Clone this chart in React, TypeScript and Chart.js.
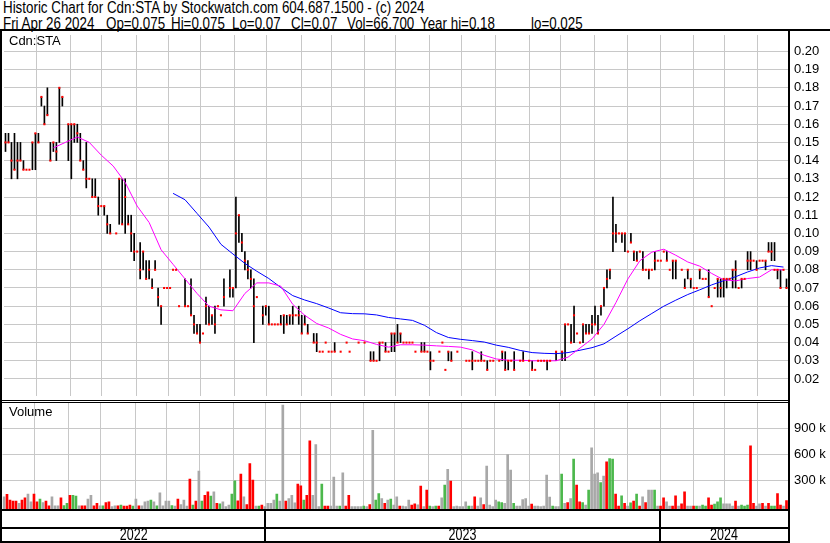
import { useEffect, useRef } from "react";
import { Chart, registerables } from "chart.js";

Chart.register(...registerables);

// ---- data (one entry per bar slot, oldest first; null = no trade) ----
const highs: (number | null)[] = [
  .155,.155,.15,.155,.15,.15,.14,.135,.135,.15,
  .155,.155,.175,.17,.18,.15,.15,.15,.18,.175,
  null,.16,.16,.16,.16,.155,.14,.15,.13,.13,
  .13,.12,.115,.115,.11,.105,null,.10,.13,.13,
  .13,.11,.11,.10,.09,.095,.09,.085,.085,.075,
  .085,.07,.06,.07,.07,.07,.08,.08,.06,null,
  .075,.06,.075,.055,.05,.05,.045,.065,.06,.055,
  .06,.06,.055,.075,null,.08,.07,.12,.11,.10,
  .09,.085,.08,.075,.065,null,.06,.06,.06,.05,
  .05,.05,.055,.055,.055,.055,.06,.055,.06,.055,
  .055,.05,null,.045,.045,.035,.035,.04,.035,.035,
  .04,null,.035,null,.04,.035,null,null,.04,null,
  .04,null,.035,.035,.03,.04,.04,.04,.035,.045,
  .045,.05,.045,.04,.04,.04,.04,.035,null,.04,
  .04,.035,.035,.03,null,.035,.04,.025,.035,.035,
  null,.035,null,null,.03,.03,.035,.03,.03,.035,
  .03,.03,.03,.03,null,.03,.035,.035,.03,.03,
  .035,null,.03,.035,null,.03,.03,.025,.03,.03,
  .03,.03,.03,null,.035,null,.035,.05,.05,.05,
  .06,.045,.04,.05,.05,.05,.055,.06,.055,.06,
  .07,.08,.08,.12,.105,.10,.10,.10,.09,.10,
  .09,.09,.09,.09,.08,.08,.08,.09,.085,.085,
  .09,.09,.08,.085,.085,null,.08,.075,.08,.075,
  .07,.07,.08,.075,.075,.08,.06,.07,.075,.075,
  .075,.075,.075,.08,.085,.07,.075,.075,.09,.09,
  .085,.085,.085,.085,.085,.095,.095,.095,.08,.08,
  .08,.075,
];
const lows: (number | null)[] = [
  .145,.15,.13,.135,.13,.14,.135,.135,.135,.135,
  .135,.15,.17,.16,.165,.14,.145,.14,.15,.17,
  null,.14,.13,.15,.15,.14,.135,.125,.13,.12,
  .12,.11,.115,.11,.10,.10,null,.10,.105,.105,
  .10,.105,.09,.085,.09,.075,.08,.075,.075,.07,
  .08,.06,.05,.07,.07,.07,.08,.08,.06,null,
  .06,.06,.055,.045,.045,.04,.045,.05,.05,.05,
  .045,.06,.055,.06,null,.065,.065,.07,.095,.09,
  .08,.075,.07,.04,.065,null,.05,.055,.05,.05,
  .05,.05,.05,.045,.05,.05,.05,.055,.05,.045,
  .05,.045,null,.04,.035,.035,.035,.04,.035,.035,
  .035,null,.035,null,.04,.035,null,null,.04,null,
  .04,null,.03,.03,.03,.03,.04,.035,.035,.035,
  .035,.04,.04,.04,.04,.04,.04,.035,null,.035,
  .035,.035,.025,.03,null,.035,.04,.025,.03,.03,
  null,.035,null,null,.03,.03,.025,.03,.03,.03,
  .03,.025,.03,.03,null,.03,.03,.025,.025,.03,
  .025,null,.03,.03,null,.03,.025,.025,.03,.03,
  .03,.025,.03,null,.03,null,.03,.03,.05,.04,
  .04,.045,.04,.04,.045,.045,.045,.05,.045,.055,
  .06,.07,.075,.09,.095,.10,.095,.09,.09,.095,
  .085,.085,.09,.08,.08,.075,.08,.08,.085,.085,
  .09,.085,.08,.075,.075,null,.08,.07,.075,.07,
  .07,.07,.075,.075,.075,.065,.06,.07,.065,.065,
  .065,.07,.075,.07,.07,.07,.07,.075,.08,.08,
  .085,.08,.085,.085,.08,.09,.085,.085,.075,.07,
  .08,.07,
];
const closes: (number | null)[] = [
  .15,.15,.14,.135,.14,.14,.135,.135,.135,.15,
  .155,.15,.175,.16,.165,.14,.15,.145,.18,.175,
  null,.16,.16,.16,.155,.14,.135,.13,.13,.12,
  .12,.115,.115,.115,.105,.10,null,.10,.13,.105,
  .12,.105,.10,.09,.09,.08,.09,.075,.08,.07,
  .08,.065,.06,.07,.07,.07,.08,.08,.06,null,
  .06,.06,.055,.05,.045,.04,.045,.06,.05,.055,
  .05,.06,.055,.065,null,.07,.07,.10,.11,.095,
  .085,.08,.075,.06,.065,null,.055,.06,.05,.05,
  .05,.05,.05,.055,.05,.055,.055,.055,.055,.045,
  .05,.045,null,.04,.04,.035,.035,.04,.035,.035,
  .035,null,.035,null,.04,.035,null,null,.04,null,
  .04,null,.03,.03,.03,.04,.04,.035,.035,.045,
  .045,.04,.045,.04,.04,.04,.04,.035,null,.035,
  .035,.035,.03,.03,null,.035,.04,.025,.035,.03,
  null,.035,null,null,.03,.03,.03,.03,.03,.03,
  .03,.025,.03,.03,null,.03,.035,.025,.03,.03,
  .025,null,.03,.03,null,.03,.025,.025,.03,.03,
  .03,.03,.03,null,.035,null,.035,.05,.05,.04,
  .055,.045,.04,.05,.045,.045,.05,.05,.045,.06,
  .07,.075,.08,.10,.10,.10,.10,.10,.09,.095,
  .09,.085,.09,.08,.08,.08,.08,.085,.085,.085,
  .09,.085,.08,.085,.085,null,.08,.07,.08,.075,
  .07,.07,.08,.075,.075,.065,.06,.07,.075,.07,
  .075,.075,.075,.08,.08,.07,.075,.075,.085,.085,
  .085,.08,.085,.085,.085,.09,.09,.08,.08,.07,
  .08,.07,
];
// volume in thousands of shares
const volumeK: number[] = [
  110,140,75,62,62,35,73,100,142,54,
  142,54,85,46,62,8,112,8,8,100,
  10,35,130,130,120,8,8,8,85,130,
  8,35,8,8,46,54,0,8,8,15,
  5,5,15,5,85,8,8,54,62,73,
  54,8,158,8,62,62,10,5,85,23,
  73,5,315,15,62,408,62,130,170,120,
  170,35,31,54,0,15,142,296,65,373,
  112,23,496,304,5,5,15,0,35,35,
  73,142,62,1169,62,92,130,42,258,238,
  73,130,758,130,715,0,258,5,5,5,
  338,5,5,388,5,130,0,0,0,0,
  5,0,23,880,73,150,92,35,73,85,
  15,112,5,5,0,73,15,31,20,235,
  0,188,5,0,5,5,100,246,430,292,
  0,5,0,0,54,5,5,112,5,100,
  23,465,15,0,73,54,46,35,600,420,
  35,5,5,81,92,5,27,5,5,0,
  5,362,108,5,0,0,373,35,46,92,
  546,246,54,46,15,188,677,373,388,277,
  350,515,554,546,142,5,123,35,5,42,
  62,142,5,112,46,188,188,188,5,5,
  100,54,5,5,123,5,31,170,5,5,
  5,5,5,15,5,100,15,27,54,100,
  31,31,31,5,62,5,15,5,15,700,
  35,5,31,35,5,35,5,5,150,15,
  5,67,
];
// r = down day, g = up day, n = unchanged
const volumeTone = [
  "nrrrrnrrnn","rrgnrrnnnr","ggrggnrrnn","rrngrrnnrg","rrrgnrnnng",
  "ngnnnngnrn","nnrgrngrrg","nrgnnnggrr","nrrrngrnnn","ngnnrnnnrr",
  "grrnnngrrn","nngnrrnnnn","gnrnggnrng","nnrnnnrrnr","nrgngrngnr",
  "nnnnngnrnn","rnnnnggnnn","gnnnnnrnnn","nnngnngnrn","grrgngnnng",
  "nrggrrgrng","rgrnrnngnr","rnnrrnrrnn","rgnggrrggg","nnnnrngggr",
  "rnnrnrggrr","nr",
].join("");
// moving averages, one reading every maStep slots
const maStep = 4;
const maShort: (number | null)[] = [
  null,null,null,null,.147,.150,.153,.150,.143,.137,
  .128,.115,.106,.091,.083,.075,.067,.060,.058,.0575,
  .067,.0728,.0728,.071,.061,.055,.0505,.048,.0445,.042,
  .041,.039,.0375,.0388,.0388,.0386,.0382,.0379,.0375,.036,
  .033,.031,.0303,.0303,.030,.030,.030,.032,.037,.042,
  .050,.062,.075,.085,.0897,.0913,.088,.0843,.082,.078,
  .0745,.0739,.0752,.076,.080,.080,
];
const maLong: (number | null)[] = [
  null,null,null,null,null,null,null,null,null,null,
  null,null,null,null,.122,.1185,.111,.1035,.094,.0887,
  .0835,.0792,.0752,.0703,.0658,.0634,.0614,.059,.0564,.0559,
  .0558,.0552,.0538,.053,.0522,.0495,.0455,.0428,.0418,.0411,
  .0403,.0386,.0374,.0357,.0345,.0341,.0339,.0345,.0358,.0372,
  .0393,.0435,.0476,.052,.056,.060,.0633,.0664,.069,.0717,
  .074,.0762,.0788,.081,.0823,.0815,
];
const priceTicks = [0.02,0.03,0.04,0.05,0.06,0.07,0.08,0.09,0.10,0.11,0.12,0.13,0.14,0.15,0.16,0.17,0.18,0.19,0.20];
const volumeTicksK = [300, 600, 900];
// month boundaries, in bar-slot units
const monthLines = [10.33,21.67,32.17,43.83,54.33,65.33,76.5,87.17,98.83,108.83,119.83,130.33,141.67,152.5,163.67,175.17,185.33,196.83,208,218.83,230,240.33,251.33];
const years = ["2022", "2023", "2024"];
const yearStartMonth = [7, 19];
const headerLine1 = "Historic Chart for Cdn:STA by Stockwatch.com 604.687.1500 - (c) 2024";
const headerFields = ["Fri Apr 26 2024", "Op=0.075", "Hi=0.075", "Lo=0.07", "Cl=0.07", "Vol=66,700", "Year hi=0.18", "lo=0.025"];
const headerFieldLeft = [3, 106, 170.5, 232, 290.5, 346.5, 420, 531];

// ---- styling ----
const GRID = "#c8c8c8";
const SANS = '"Liberation Sans", Arial, sans-serif';
const TONE: Record<string, string> = { r: "#ff0000", g: "#4cb84c", n: "#a8a8a8" };
const N = highs.length;

function xScale() {
  return {
    type: "linear",
    min: -0.5,
    max: N - 0.5,
    bounds: "data",
    offset: false,
    afterBuildTicks: (s: any) => { s.ticks = monthLines.map((v) => ({ value: v })); },
    afterFit: (s: any) => { s.height = 0; },
    ticks: { display: false },
    border: { display: false },
    grid: { color: GRID, lineWidth: 1, drawTicks: false, offset: false },
  };
}

function yScale(min: number, max: number, ticks: number[], fmt: (v: number) => string) {
  return {
    type: "linear",
    position: "right",
    min,
    max,
    bounds: "data",
    afterBuildTicks: (s: any) => { s.ticks = ticks.map((v) => ({ value: v })); },
    afterFit: (s: any) => { s.width = 42; s.paddingTop = 0; s.paddingBottom = 0; },
    ticks: {
      autoSkip: false,
      padding: 6,
      color: "#000",
      font: { family: SANS, size: 13 },
      callback: (v: any) => fmt(Number(v)),
    },
    border: { display: false },
    grid: { color: GRID, lineWidth: 1, drawTicks: false },
  };
}

const yearStrip = {
  id: "yearStrip",
  afterDraw(chart: any) {
    const { ctx, chartArea, scales } = chart;
    const x = scales.x;
    const top = chartArea.bottom;
    const h = chart.height;
    const right = chartArea.right + 2;
    ctx.save();
    ctx.fillStyle = "#000";
    ctx.fillRect(0, top, right, 2);
    ctx.fillRect(0, top + 18, right, 2);
    ctx.fillRect(0, h - 2, right, 2);
    const bounds = yearStartMonth.map((m) => Math.round(x.getPixelForValue(monthLines[m])));
    bounds.forEach((px) => ctx.fillRect(px - 1, top + 2, 2, h - top - 4));
    const edges = [chartArea.left, ...bounds, chartArea.right];
    ctx.font = `16px ${SANS}`;
    ctx.textAlign = "center";
    ctx.textBaseline = "alphabetic";
    const squeeze = 0.78;
    years.forEach((label, j) => {
      const cx = (edges[j] + edges[j + 1]) / 2;
      ctx.save();
      ctx.translate(cx, h - 3);
      ctx.scale(squeeze, 1);
      ctx.fillText(label, 0, 0);
      ctx.restore();
    });
    ctx.restore();
  },
};

const headerText = (left: number, top: number) => ({
  position: "absolute" as const,
  left,
  top,
  fontFamily: SANS,
  fontSize: 16,
  lineHeight: "15.5px",
  whiteSpace: "pre" as const,
  color: "#000",
  transform: "scaleX(0.835)",
  transformOrigin: "0 0",
});

export default function App() {
  const priceRef = useRef<HTMLCanvasElement>(null);
  const volRef = useRef<HTMLCanvasElement>(null);

  useEffect(() => {
    const bars: any[] = [];
    const closePts: any[] = [];
    for (let i = 0; i < N; i++) {
      const hi = highs[i], lo = lows[i], cl = closes[i];
      if (hi != null && lo != null && hi > lo) bars.push({ x: i, y: [lo, hi] });
      if (cl != null) closePts.push({ x: i, y: cl });
    }
    const maPts = (arr: (number | null)[]) =>
      arr.map((v, k) => (v == null ? null : { x: k * maStep, y: v })).filter(Boolean);

    const price = new Chart(priceRef.current as HTMLCanvasElement, {
      type: "bar",
      data: {
        datasets: [
          {
            type: "scatter",
            data: closePts,
            pointStyle: "rect",
            pointRadius: 1.45,
            pointBorderWidth: 0,
            backgroundColor: "#ff0000",
            borderColor: "#ff0000",
          } as any,
          {
            type: "line",
            data: maPts(maShort),
            borderColor: "#ff00ff",
            borderWidth: 1,
            pointRadius: 0,
            tension: 0,
          } as any,
          {
            type: "line",
            data: maPts(maLong),
            borderColor: "#0000ff",
            borderWidth: 1,
            pointRadius: 0,
            tension: 0,
          } as any,
          {
            type: "bar",
            data: bars,
            backgroundColor: "#000",
            barThickness: 1,
            borderWidth: 0,
          } as any,
        ],
      },
      options: {
        animation: false,
        responsive: false,
        maintainAspectRatio: false,
        events: [],
        layout: { padding: { left: 2, right: 0, top: 0, bottom: 0 } },
        plugins: { legend: { display: false }, tooltip: { enabled: false } },
        scales: {
          x: xScale() as any,
          y: yScale(0.010645, 0.209032, priceTicks, (v) => v.toFixed(2)) as any,
        },
      },
    });

    const vol = new Chart(volRef.current as HTMLCanvasElement, {
      type: "bar",
      data: {
        datasets: [
          {
            data: volumeK.map((v, i) => ({ x: i, y: v })),
            backgroundColor: volumeK.map((_, i) => TONE[volumeTone[i]]),
            barThickness: 2,
            borderWidth: 0,
            base: -29,
          } as any,
        ],
      },
      options: {
        animation: false,
        responsive: false,
        maintainAspectRatio: false,
        events: [],
        layout: { padding: { left: 2.5, right: 0, top: 0, bottom: 34 } },
        plugins: { legend: { display: false }, tooltip: { enabled: false } },
        scales: {
          x: xScale() as any,
          y: yScale(-29, 1194, volumeTicksK, (v) => `${v} k`) as any,
        },
      },
      plugins: [yearStrip],
    });

    return () => {
      price.destroy();
      vol.destroy();
    };
  }, []);

  const abs = (l: number, t: number, w: number, h: number, bg = "#000") => ({
    position: "absolute" as const, left: l, top: t, width: w, height: h, background: bg,
  });

  return (
    <div style={{ position: "fixed", left: 0, top: 0, width: 830, height: 543, background: "#fff", overflow: "hidden" }}>
      <div style={headerText(3, 0)}>{headerLine1}</div>
      {headerFields.map((f, i) => (
        <div key={i} style={headerText(headerFieldLeft[i], 15.5)}>{f}</div>
      ))}
      <canvas ref={priceRef} width={830} height={369} style={{ position: "absolute", left: 0, top: 31, width: 830, height: 369 }} />
      <canvas ref={volRef} width={830} height={140} style={{ position: "absolute", left: 0, top: 403, width: 830, height: 140 }} />
      <div style={{ position: "absolute", left: 9, top: 33, fontFamily: SANS, fontSize: 13, lineHeight: "15px", color: "#000" }}>Cdn:STA</div>
      <div style={{ position: "absolute", left: 9, top: 404, fontFamily: SANS, fontSize: 13, lineHeight: "15px", color: "#000" }}>Volume</div>
      <div style={abs(0, 29, 830, 2)} />
      <div style={abs(0, 29, 2, 514)} />
      <div style={abs(788, 29, 2, 514)} />
      <div style={abs(0, 400, 790, 1)} />
      <div style={abs(0, 402, 790, 1)} />
    </div>
  );
}
